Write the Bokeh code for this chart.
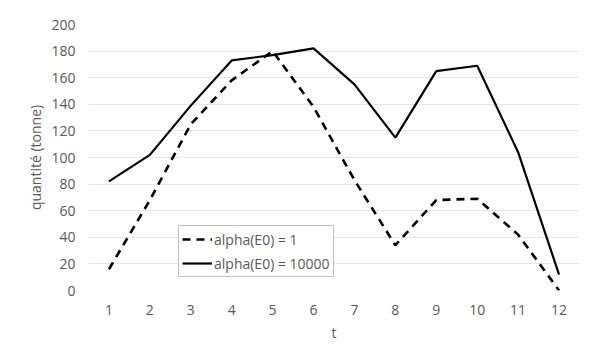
from bokeh.plotting import figure
from bokeh.models import Range1d, Legend, LegendItem
from bokeh.embed import file_html
from bokeh.resources import INLINE

t_labels = ["1", "2", "3", "4", "5", "6", "7", "8", "9", "10", "11", "12"]
alpha_1 = [16, 68, 125, 158, 180, 138, 83, 34, 68, 69, 42, 0]
alpha_10000 = [82, 102, 139, 173, 177, 182, 155, 115, 165, 169, 104, 12]
y_ticks = [0, 20, 40, 60, 80, 100, 120, 140, 160, 180, 200]

FONT = "Open Sans"
GRAY = "#595959"

p = figure(width=599, height=344, x_range=t_labels, y_range=Range1d(0, 200),
           output_backend="svg", toolbar_location=None,
           min_border_left=88, min_border_top=24, min_border_right=20, min_border_bottom=54)
p.outline_line_color = None

r1 = p.line(t_labels, alpha_1, line_color="black", line_width=2.6, line_dash="8 6")
r2 = p.line(t_labels, alpha_10000, line_color="black", line_width=2.2)

p.xgrid.grid_line_color = None
p.ygrid.grid_line_color = "#e6e6e6"
p.ygrid.grid_line_width = 1
p.yaxis.ticker = y_ticks

for ax in (p.xaxis[0], p.yaxis[0]):
    ax.axis_line_color = None
    ax.major_tick_line_color = None
    ax.minor_tick_line_color = None
    ax.major_tick_out = 0
    ax.major_tick_in = 0
    ax.major_label_text_font = FONT
    ax.major_label_text_font_size = "14px"
    ax.major_label_text_color = GRAY
    ax.axis_label_text_font = FONT
    ax.axis_label_text_font_size = "14px"
    ax.axis_label_text_color = GRAY
    ax.axis_label_text_font_style = "normal"

p.yaxis.major_label_standoff = 13
p.xaxis.major_label_standoff = 14
p.xaxis.axis_label = "t"
p.yaxis.axis_label = "quantité (tonne)"
p.xaxis.axis_label_standoff = 5
p.yaxis.axis_label_standoff = 3

legend = Legend(items=[LegendItem(label="alpha(E0) = 1", renderers=[r1]),
                       LegendItem(label="alpha(E0) = 10000", renderers=[r2])],
                location=(90, 13), orientation="vertical",
                label_text_font=FONT, label_text_font_size="14px", label_text_color=GRAY,
                glyph_width=30, glyph_height=20, label_standoff=2, spacing=4,
                padding=3, margin=0,
                border_line_color="#7f7f7f", border_line_width=1,
                background_fill_color="white", background_fill_alpha=1)
p.add_layout(legend)

open("out.html", "w").write(file_html(p, INLINE))
